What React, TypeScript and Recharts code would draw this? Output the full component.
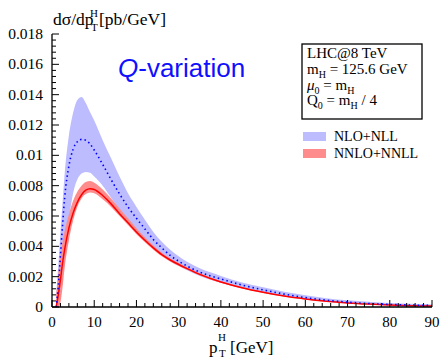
import React from 'react';
import { ComposedChart, Area, Line, XAxis, YAxis } from 'recharts';

// pT^H in GeV, cross sections in units of 10^-3 pb/GeV
const pt = [1, 1.5, 2, 2.5, 3, 4, 5, 6, 7, 8, 9, 10, 12, 14, 16, 18, 20, 22, 24, 26, 28, 30, 32, 35, 40, 45, 50, 55, 60, 65, 70, 75, 80, 85, 90];

const nloMid = [0, 1.4, 3.4, 5.4, 7.2, 9.3, 10.4, 10.9, 11.05, 11.0, 10.75, 10.35, 9.4, 8.4, 7.45, 6.6, 5.85, 5.15, 4.45, 3.9, 3.4, 3.02, 2.7, 2.3, 1.85, 1.45, 1.13, 0.85, 0.62, 0.45, 0.32, 0.23, 0.17, 0.13, 0.1];
const nloHi = [0.8, 2.8, 4.9, 6.9, 8.8, 11.3, 12.8, 13.65, 13.85, 13.45, 12.85, 12.3, 11.0, 9.8, 8.6, 7.5, 6.6, 5.75, 4.95, 4.3, 3.78, 3.35, 2.98, 2.55, 2.05, 1.62, 1.3, 1.0, 0.77, 0.58, 0.44, 0.34, 0.26, 0.21, 0.17];
const nloLo = [0, 0, 1.4, 2.6, 3.6, 5.8, 7.5, 8.4, 8.8, 8.9, 8.85, 8.6, 8.0, 7.2, 6.4, 5.7, 5.05, 4.45, 3.9, 3.45, 3.0, 2.7, 2.42, 2.05, 1.6, 1.25, 0.95, 0.7, 0.5, 0.35, 0.24, 0.16, 0.11, 0.07, 0.05];

const nnloMid = [0, 0.8, 1.8, 2.9, 3.8, 5.2, 6.2, 6.9, 7.4, 7.7, 7.8, 7.75, 7.35, 6.8, 6.15, 5.55, 4.95, 4.4, 3.9, 3.45, 3.1, 2.8, 2.53, 2.15, 1.65, 1.27, 0.97, 0.72, 0.53, 0.38, 0.27, 0.19, 0.13, 0.09, 0.07];
const nnloLo = [0, 0, 0.3, 1.3, 2.6, 4.4, 5.7, 6.6, 7.15, 7.45, 7.55, 7.5, 7.1, 6.6, 6.0, 5.4, 4.8, 4.27, 3.78, 3.35, 3.0, 2.72, 2.45, 2.08, 1.6, 1.22, 0.93, 0.69, 0.5, 0.36, 0.25, 0.17, 0.12, 0.08, 0.06];
const nnloHi = [0.8, 2.2, 3.3, 4.3, 5.0, 6.1, 7.0, 7.6, 8.0, 8.25, 8.3, 8.2, 7.75, 7.15, 6.5, 5.85, 5.2, 4.6, 4.05, 3.58, 3.2, 2.9, 2.62, 2.22, 1.7, 1.32, 1.01, 0.75, 0.56, 0.4, 0.29, 0.21, 0.15, 0.1, 0.08];

const xMajor = [0, 10, 20, 30, 40, 50, 60, 70, 80, 90];
const xTicks = Array.from({ length: 46 }, (_, i) => i * 2);
const yMajor = [0, 2, 4, 6, 8, 10, 12, 14, 16, 18];
const yLabels = ['0', '0.002', '0.004', '0.006', '0.008', '0.01', '0.012', '0.014', '0.016', '0.018'];
const yTicks = Array.from({ length: 46 }, (_, i) => i * 0.4);

const data = pt.map((x, i) => ({
  x,
  nloBand: [nloLo[i], nloHi[i]],
  nlo: nloMid[i],
  nnloBand: [nnloLo[i], nnloHi[i]],
  nnlo: nnloMid[i],
}));

const SERIF = "'Liberation Serif', 'Times New Roman', serif";
const BLUE_BAND = '#bcbcff';
const RED_BAND = '#ff8c8c';

const isMajorX = (v: number) => xMajor.includes(Math.round(v));
const isMajorY = (v: number) => Math.round(v / 0.4) % 5 === 0;

const BottomTick = (props: any) => {
  const { x, y, payload } = props;
  const major = isMajorX(payload.value);
  return (
    <g>
      <line x1={x} x2={x} y1={y} y2={y - (major ? 7 : 4)} stroke="#000" strokeWidth={1} />
      {major && (
        <text x={x} y={y + 20} textAnchor="middle" fontFamily={SERIF} fontSize={15} fill="#000">
          {payload.value}
        </text>
      )}
    </g>
  );
};

const TopTick = (props: any) => {
  const { x, y, payload } = props;
  const major = isMajorX(payload.value);
  return <line x1={x} x2={x} y1={y} y2={y + (major ? 7 : 4)} stroke="#000" strokeWidth={1} />;
};

const LeftTick = (props: any) => {
  const { x, y, payload } = props;
  const major = isMajorY(payload.value);
  const idx = yMajor.indexOf(Math.round(payload.value));
  return (
    <g>
      <line x1={x} x2={x + (major ? 7 : 4)} y1={y} y2={y} stroke="#000" strokeWidth={1} />
      {major && (
        <text x={x - 9} y={y + 5} textAnchor="end" fontFamily={SERIF} fontSize={15.5} fill="#000">
          {yLabels[idx]}
        </text>
      )}
    </g>
  );
};

const RightTick = (props: any) => {
  const { x, y, payload } = props;
  const major = isMajorY(payload.value);
  return <line x1={x} x2={x - (major ? 7 : 4)} y1={y} y2={y} stroke="#000" strokeWidth={1} />;
};

const Overlay = () => (
  <svg
    width={441}
    height={359}
    style={{ position: 'absolute', left: 0, top: 0, pointerEvents: 'none' }}
    fontFamily={SERIF}
  >
    {/* y axis title */}
    <text x={53} y={25} fontSize={17.5} fill="#000">dσ/dp</text>
    <text x={90} y={17} fontSize={11} fill="#000">H</text>
    <text x={91} y={31} fontSize={11} fill="#000">T</text>
    <text x={99} y={25} fontSize={17.5} fill="#000">[pb/GeV]</text>

    {/* x axis title */}
    <text x={209} y={353} fontSize={17} fill="#000">p</text>
    <text x={218} y={341} fontSize={11} fill="#000">H</text>
    <text x={219} y={357} fontSize={11} fill="#000">T</text>
    <text x={230} y={353} fontSize={17} fill="#000">[GeV]</text>

    <text x={118} y={77} fontFamily="'Liberation Sans', Arial, sans-serif" fontSize={26} fill="#1010ff">
      <tspan fontStyle="italic">Q</tspan>-variation
    </text>

    {/* info box */}
    <rect x={302} y={44} width={120} height={75} fill="#fff" stroke="#000" strokeWidth={1.3} />
    <text x={307} y={58} fontSize={15} fill="#000">LHC@8 TeV</text>
    <text x={307} y={74} fontSize={15} fill="#000">
      m<tspan dy={4} fontSize={10}>H</tspan><tspan dy={-4}> = 125.6 GeV</tspan>
    </text>
    <text x={307} y={90} fontSize={15} fill="#000">
      <tspan fontStyle="italic">μ</tspan><tspan dy={4} fontSize={10}>0</tspan>
      <tspan dy={-4}> = m</tspan><tspan dy={4} fontSize={10}>H</tspan>
    </text>
    <text x={307} y={105} fontSize={15} fill="#000">
      Q<tspan dy={4} fontSize={10}>0</tspan><tspan dy={-4}> = m</tspan>
      <tspan dy={4} fontSize={10}>H</tspan><tspan dy={-4}> / 4</tspan>
    </text>

    {/* legend */}
    <rect x={303} y={132} width={23} height={9} fill={BLUE_BAND} />
    <text x={334} y={141} fontSize={14} fill="#000">NLO+NLL</text>
    <rect x={303} y={149} width={23} height={9} fill={RED_BAND} />
    <text x={334} y={158} fontSize={14} fill="#000">NNLO+NNLL</text>
  </svg>
);

export default function App() {
  return (
    <div style={{ position: 'absolute', left: 0, top: 0, width: 441, height: 359, background: '#fff' }}>
      <ComposedChart width={441} height={359} data={data} margin={{ top: 34, right: 9, bottom: 22, left: 8 }}>
        <XAxis
          xAxisId="b"
          dataKey="x"
          type="number"
          domain={[0, 90]}
          ticks={xTicks}
          interval={0}
          height={30}
          tickSize={0}
          tickMargin={0}
          tickLine={false}
          axisLine={{ stroke: '#000', strokeWidth: 1.3 }}
          tick={<BottomTick />}
          allowDataOverflow
        />
        <XAxis
          xAxisId="t"
          orientation="top"
          type="number"
          domain={[0, 90]}
          ticks={xTicks}
          interval={0}
          height={0}
          tickSize={0}
          tickMargin={0}
          tickLine={false}
          axisLine={{ stroke: '#000', strokeWidth: 1.3 }}
          tick={<TopTick />}
        />
        <YAxis
          yAxisId="l"
          type="number"
          domain={[0, 18]}
          ticks={yTicks}
          interval={0}
          width={44}
          tickSize={0}
          tickMargin={0}
          tickLine={false}
          axisLine={{ stroke: '#000', strokeWidth: 1.3 }}
          tick={<LeftTick />}
          allowDataOverflow
        />
        <YAxis
          yAxisId="r"
          orientation="right"
          type="number"
          domain={[0, 18]}
          ticks={yTicks}
          interval={0}
          width={0}
          tickSize={0}
          tickMargin={0}
          tickLine={false}
          axisLine={{ stroke: '#000', strokeWidth: 1.3 }}
          tick={<RightTick />}
        />
        <Area
          xAxisId="b"
          yAxisId="l"
          dataKey="nloBand"
          type="monotone"
          fill={BLUE_BAND}
          fillOpacity={1}
          stroke="none"
          isAnimationActive={false}
        />
        <Area
          xAxisId="b"
          yAxisId="l"
          dataKey="nnloBand"
          type="monotone"
          fill={RED_BAND}
          fillOpacity={1}
          stroke="none"
          isAnimationActive={false}
        />
        <Line
          xAxisId="b"
          yAxisId="l"
          dataKey="nnlo"
          type="monotone"
          stroke="#ff0000"
          strokeWidth={1.5}
          dot={false}
          isAnimationActive={false}
        />
        <Line
          xAxisId="b"
          yAxisId="l"
          dataKey="nlo"
          type="monotone"
          stroke="#0000ff"
          strokeWidth={1.6}
          strokeDasharray="1.5 3"
          dot={false}
          isAnimationActive={false}
        />
      </ComposedChart>
      <Overlay />
    </div>
  );
}
